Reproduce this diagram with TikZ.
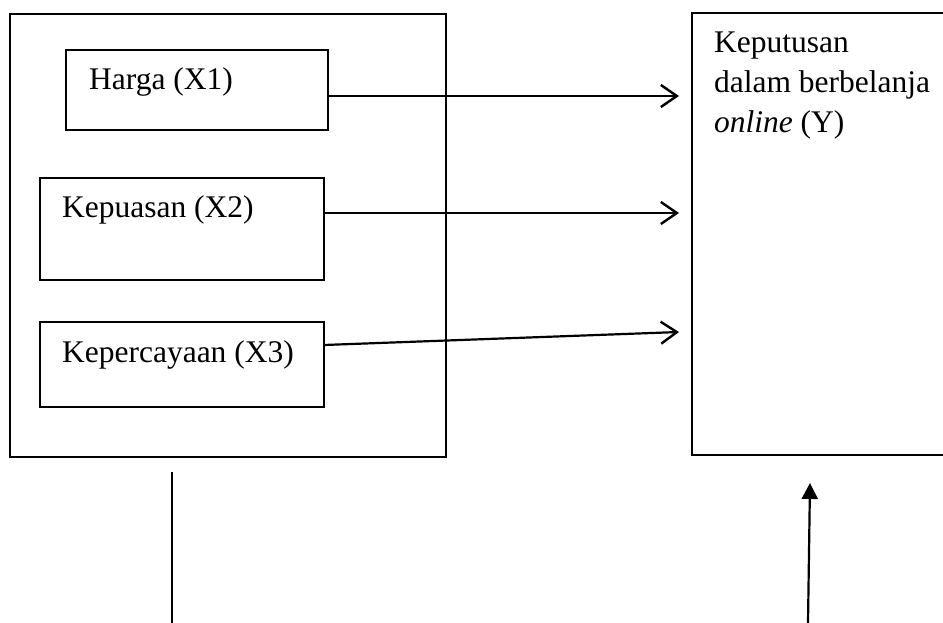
\documentclass[tikz,border=0pt]{standalone}
\usepackage{fontspec}
\setmainfont{Liberation Serif}
\usetikzlibrary{arrows.meta,calc}
\begin{document}
\begin{tikzpicture}[x=1pt,y=-1pt,line width=2.2pt,
  boxnode/.style={draw,line width=2.2pt,inner sep=0pt,outer sep=0pt,anchor=north west},
  lbl/.style={anchor=base west,inner sep=0pt,font=\fontsize{31.5}{40}\selectfont},
  barb/.style={-{Straight Barb[length=16pt,width=22pt,line width=2.4pt]}},
  solidtip/.style={-{Triangle[length=16pt,width=16pt]}}]
\useasboundingbox (0,0) rectangle (943,623);
\clip (0,0) rectangle (943,623);
% boxes
\node[boxnode,minimum width=436pt,minimum height=443pt] (outer) at (10,14) {};
\node[boxnode,minimum width=262pt,minimum height=80pt] (x1) at (66,50) {};
\node[boxnode,minimum width=284pt,minimum height=102pt] (x2) at (40,178) {};
\node[boxnode,minimum width=284pt,minimum height=85pt] (x3) at (40,322) {};
\node[boxnode,minimum width=300pt,minimum height=442pt] (yb) at (692,13) {};
% labels
\node[lbl] (t1) at (88,90) {Harga (X1)};
\node[lbl] (t2) at (61,218) {Kepuasan (X2)};
\node[lbl] (t3) at (61,362) {Kepercayaan (X3)};
\node[lbl] (ty1) at (713,53) {Keputusan};
\node[lbl] (ty2) at (713,93) {dalam berbelanja};
\node[lbl] (ty3) at (713,133) {\textit{online} (Y)};
% arrows
\draw[barb] ($(x1.north east)+(0,46)$) -- ($(yb.north west)+(-13,83)$);
\draw[barb] ($(x2.north east)+(0,35)$) -- ($(yb.north west)+(-13,200)$);
\draw[barb] ($(x3.north east)+(0,23)$) -- ($(yb.north west)+(-13,319)$);
% bottom lines
\coordinate (l1) at (172,472);
\coordinate (l2) at (172,623);
\draw (l1) -- (l2);
\coordinate (r1) at (808,623);
\coordinate (r2) at (810,483);
\draw[solidtip] (r1) -- (r2);
\end{tikzpicture}
\end{document}
